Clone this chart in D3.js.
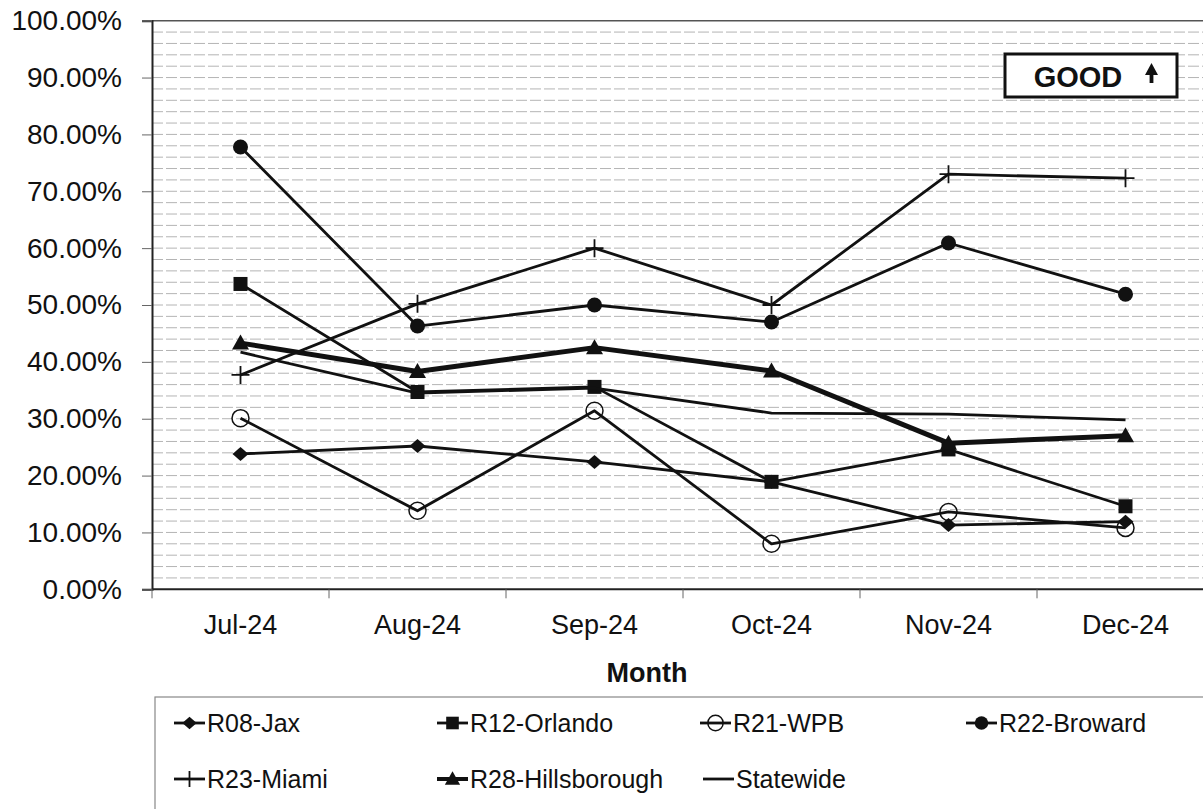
<!DOCTYPE html>
<html>
<head>
<meta charset="utf-8">
<script src="https://cdn.jsdelivr.net/npm/d3@7"></script>
<style>
  html, body { margin: 0; padding: 0; background: #fff; }
  svg { display: block; font-family: "Liberation Sans", Arial, sans-serif; }
</style>
</head>
<body>
<svg id="chart" width="1203" height="809"></svg>
<script>
// Monthly rates by region, Jul-24 through Dec-24
const months = ["Jul-24", "Aug-24", "Sep-24", "Oct-24", "Nov-24", "Dec-24"];
const yTicks = [0, 0.1, 0.2, 0.3, 0.4, 0.5, 0.6, 0.7, 0.8, 0.9, 1.0];

const r08Jax          = [0.238, 0.252, 0.224, 0.189, 0.113, 0.119];
const r12Orlando      = [0.537, 0.347, 0.356, 0.189, 0.246, 0.146];
const r21Wpb          = [0.301, 0.138, 0.314, 0.080, 0.136, 0.108];
const r22Broward      = [0.778, 0.463, 0.500, 0.470, 0.609, 0.519];
const r23Miami        = [0.377, 0.502, 0.600, 0.500, 0.730, 0.723];
const r28Hillsborough = [0.433, 0.383, 0.425, 0.384, 0.257, 0.270];
const statewide       = [0.417, 0.345, 0.354, 0.310, 0.308, 0.298];

const seriesNames = ["R08-Jax", "R12-Orlando", "R21-WPB", "R22-Broward",
                     "R23-Miami", "R28-Hillsborough", "Statewide"];
const seriesValues = [r08Jax, r12Orlando, r21Wpb, r22Broward,
                      r23Miami, r28Hillsborough, statewide];
const seriesMarkers = ["diamond", "square", "openCircle", "circle",
                       "plus", "triangle", "none"];

const svg = d3.select("#chart");

// Plot area (the right edge runs past the canvas)
const plotLeft = 152, plotRight = 1214, plotTop = 20.7, plotBottom = 589.3;

const x = d3.scaleBand().domain(months).range([plotLeft, plotRight]);
const y = d3.scaleLinear().domain([0, 1]).range([plotBottom, plotTop]);
const cx = m => x(m) + x.bandwidth() / 2;

// Minor gridlines every 2%
const gridVals = d3.range(1, 50).map(i => i * 0.02);
svg.append("g")
  .selectAll("line")
  .data(gridVals)
  .join("line")
  .attr("x1", plotLeft).attr("x2", plotRight)
  .attr("y1", d => y(d)).attr("y2", d => y(d))
  .attr("stroke", "#b4b4b4")
  .attr("stroke-width", 1)
  .attr("stroke-dasharray", "11,3");

// Top frame line
svg.append("line")
  .attr("x1", plotLeft).attr("x2", plotRight)
  .attr("y1", y(1)).attr("y2", y(1))
  .attr("stroke", "#555").attr("stroke-width", 1.5);

// Y axis
const yAxis = d3.axisLeft(y)
  .tickValues(yTicks)
  .tickFormat(d3.format(".2%"))
  .tickSize(10)
  .tickPadding(20);
const gy = svg.append("g")
  .attr("transform", `translate(${plotLeft},0)`)
  .call(yAxis);
gy.select(".domain").attr("stroke", "#222").attr("stroke-width", 2);
gy.selectAll(".tick line").attr("stroke", "#666").attr("stroke-width", 1);
gy.selectAll(".tick text")
  .attr("font-size", 28)
  .attr("fill", "#111")
  .attr("font-family", "Liberation Sans, Arial, sans-serif");

// X axis with ticks between categories
const gx = svg.append("g")
  .attr("transform", `translate(0,${plotBottom})`);
gx.append("line")
  .attr("x1", plotLeft).attr("x2", plotRight)
  .attr("y1", 0).attr("y2", 0)
  .attr("stroke", "#222").attr("stroke-width", 2);
const boundaries = months.map(m => x(m)).concat([x(months[months.length - 1]) + x.bandwidth()]);
gx.selectAll("line.tk")
  .data(boundaries)
  .join("line")
  .attr("class", "tk")
  .attr("x1", d => d).attr("x2", d => d)
  .attr("y1", 0).attr("y2", 9)
  .attr("stroke", "#666").attr("stroke-width", 1);
gx.selectAll("text")
  .data(months)
  .join("text")
  .attr("x", d => cx(d))
  .attr("y", 45)
  .attr("text-anchor", "middle")
  .attr("font-size", 27)
  .attr("fill", "#111")
  .text(d => d);

// Axis title
svg.append("text")
  .attr("x", 647).attr("y", 682)
  .attr("text-anchor", "middle")
  .attr("font-size", 27)
  .attr("font-weight", "bold")
  .attr("fill", "#111")
  .text("Month");

// Marker drawing
function drawMarker(g, type, px, py, scale = 1) {
  const s = scale;
  switch (type) {
    case "diamond":
      g.append("path")
        .attr("d", `M${px},${py - 7 * s}L${px + 8 * s},${py}L${px},${py + 7 * s}L${px - 8 * s},${py}Z`)
        .attr("fill", "#111");
      break;
    case "square":
      g.append("rect")
        .attr("x", px - 7 * s).attr("y", py - 7 * s)
        .attr("width", 14 * s).attr("height", 14 * s)
        .attr("fill", "#111");
      break;
    case "openCircle":
      g.append("circle")
        .attr("cx", px).attr("cy", py).attr("r", 8.5 * s)
        .attr("fill", "none").attr("stroke", "#111").attr("stroke-width", 1.5);
      break;
    case "circle":
      g.append("circle")
        .attr("cx", px).attr("cy", py).attr("r", 7.5 * s)
        .attr("fill", "#111");
      break;
    case "plus":
      g.append("path")
        .attr("d", `M${px - 9 * s},${py}H${px + 9 * s}M${px},${py - 9 * s}V${py + 9 * s}`)
        .attr("stroke", "#111").attr("stroke-width", 1.8).attr("fill", "none");
      break;
    case "triangle":
      g.append("path")
        .attr("d", `M${px},${py - 8.5 * s}L${px + 8.5 * s},${py + 6.5 * s}L${px - 8.5 * s},${py + 6.5 * s}Z`)
        .attr("fill", "#111");
      break;
    default:
      break;
  }
}

// Series lines and markers
const line = d3.line()
  .x((d, i) => cx(months[i]))
  .y(d => y(d));

const seriesG = svg.append("g");
seriesValues.forEach((vals, si) => {
  const g = seriesG.append("g");
  g.append("path")
    .datum(vals)
    .attr("d", line)
    .attr("fill", "none")
    .attr("stroke", "#111")
    .attr("stroke-width", seriesNames[si] === "R28-Hillsborough" ? 5 : 2.8)
    .attr("stroke-linejoin", "round");
  vals.forEach((v, i) => drawMarker(g, seriesMarkers[si], cx(months[i]), y(v)));
});

// "GOOD" direction callout
const good = svg.append("g");
good.append("rect")
  .attr("x", 1005).attr("y", 54)
  .attr("width", 172).attr("height", 43)
  .attr("fill", "#fff").attr("stroke", "#111").attr("stroke-width", 3);
good.append("text")
  .attr("x", 1078).attr("y", 87)
  .attr("text-anchor", "middle")
  .attr("font-size", 29)
  .attr("font-weight", "bold")
  .attr("fill", "#111")
  .text("GOOD");
good.append("path")
  .attr("d", "M1151.5,63 L1158,75 L1145,75 Z M1149.6,74 H1153.4 V83 H1149.6 Z")
  .attr("fill", "#111");

// Legend
const legend = svg.append("g");
legend.append("rect")
  .attr("x", 155).attr("y", 697)
  .attr("width", 1060).attr("height", 130)
  .attr("fill", "#fff").attr("stroke", "#888").attr("stroke-width", 1.2);

const legendPos = [
  [174, 723], [437, 723], [700, 723], [966, 723],
  [174, 779], [437, 779], [703, 779]
];
seriesNames.forEach((name, si) => {
  const [lx, ly] = legendPos[si];
  const g = legend.append("g");
  g.append("line")
    .attr("x1", lx).attr("x2", lx + 31)
    .attr("y1", ly).attr("y2", ly)
    .attr("stroke", "#111")
    .attr("stroke-width", seriesNames[si] === "R28-Hillsborough" ? 4 : 2.8);
  drawMarker(g, seriesMarkers[si], lx + 15.5, ly, 0.9);
  g.append("text")
    .attr("x", lx + 33).attr("y", ly + 9)
    .attr("font-size", 25)
    .attr("fill", "#111")
    .text(name);
});
</script>
</body>
</html>
